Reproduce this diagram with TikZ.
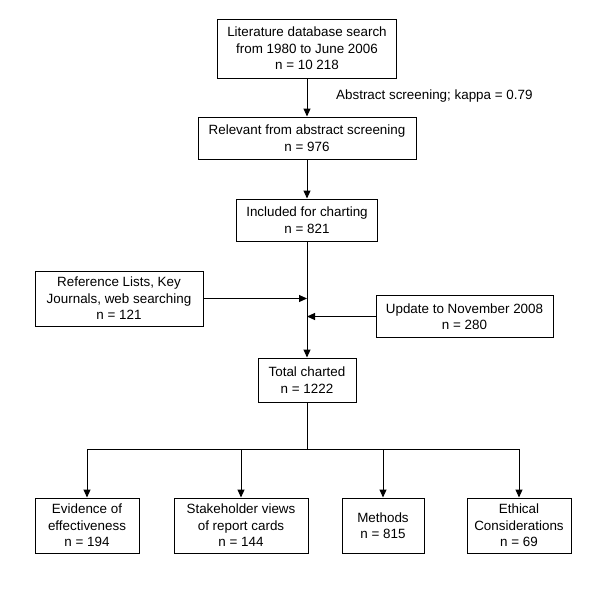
\documentclass[tikz,border=0pt]{standalone}
\usepackage{fontspec}
\setmainfont{Liberation Sans}
\usetikzlibrary{
	arrows.meta,
	calc,
	positioning,
}
\tikzset{flow box/.style={
	draw,
	rectangle,
	align=center,
	inner sep=0mm,
	line width=1pt,
	font=\fontsize{13.4}{16.5}\selectfont,
},
flow arrow/.style={
	line width=1pt,
	-{Triangle[length=8pt,width=7pt]},
}}

\begin{document}
\begin{tikzpicture}[x=1pt,y=-1pt]
\useasboundingbox (0,0) rectangle (600,598);

\node[flow box, minimum width=179pt, minimum height=59pt] (lit) at (307,48.5)
	{Literature database search\\from 1980 to June 2006\\n = 10 218};
\node[flow box, minimum width=218pt, minimum height=42pt] (rel) at (307,138)
	{Relevant from abstract screening\\n = 976};
\node[flow box, minimum width=141pt, minimum height=42pt] (inc) at (307,220)
	{Included for charting\\n = 821};
\node[flow box, minimum width=168pt, minimum height=55pt] (ref) at (119,298.5)
	{Reference Lists, Key\\Journals, web searching\\n = 121};
\node[flow box, minimum width=177pt, minimum height=42pt] (upd) at (464.5,316.5)
	{Update to November 2008\\n = 280};
\node[flow box, minimum width=98pt, minimum height=44pt] (tot) at (307,380)
	{Total charted\\n = 1222};

\node[font=\fontsize{13.4}{16.5}\selectfont, anchor=west, inner sep=0mm] (kappa) at (336,96) {Abstract screening; kappa = 0.79};

% the four groups
\node[flow box, minimum width=104pt, minimum height=55pt] (ev) at (87,525.5)
	{Evidence of\\effectiveness\\n = 194};
\node[flow box, minimum width=134pt, minimum height=55pt] (st) at (241,525.5)
	{Stakeholder views\\of report cards\\n = 144};
\node[flow box, minimum width=82pt, minimum height=55pt] (me) at (383,525.5)
	{Methods\\n = 815};
\node[flow box, minimum width=104pt, minimum height=55pt] (et) at (519,525.5)
	{Ethical\\Considerations\\n = 69};

\coordinate (split) at (307,449);

\draw[flow arrow] (lit.south) -- (rel.north);
\draw[flow arrow] (rel.south) -- (inc.north);
\draw[flow arrow] (inc.south) -- (tot.north);
\draw[flow arrow] (ref.east) -- (ref.east -| split);
\draw[flow arrow] (upd.west) -- (upd.west -| split);
\draw[line width=1pt] (tot.south) -- (split);

\foreach \b in {ev,st,me,et}{
	\draw[flow arrow] (split) -| (\b.north);
}
\end{tikzpicture}
\end{document}
